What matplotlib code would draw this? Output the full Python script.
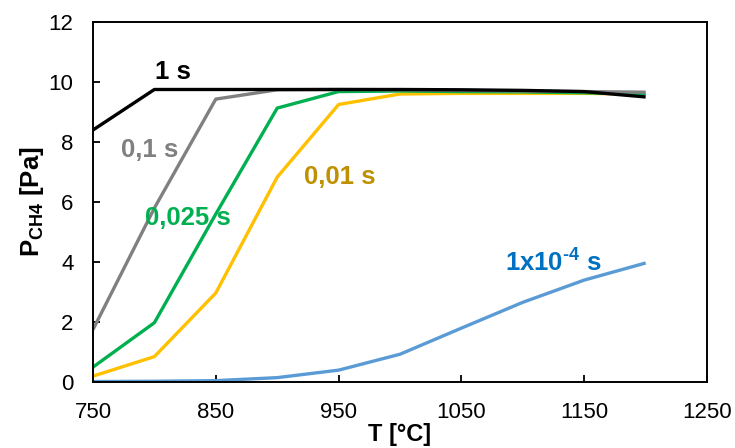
import numpy as np
import matplotlib
matplotlib.use('Agg')
import matplotlib.pyplot as plt

plt.rcParams['font.family'] = ['Liberation Sans', 'DejaVu Sans']
plt.rcParams['mathtext.fontset'] = 'custom'
plt.rcParams['mathtext.rm'] = 'Liberation Sans:bold'
plt.rcParams['mathtext.bf'] = 'Liberation Sans:bold'
plt.rcParams['mathtext.it'] = 'Liberation Sans:italic'

# data
T = [750, 800, 850, 900, 950, 1000, 1050, 1100, 1150, 1200]
p_1s = [8.4, 9.75, 9.75, 9.75, 9.75, 9.75, 9.74, 9.72, 9.68, 9.5]
p_01s = [1.75, 5.8, 9.43, 9.74, 9.75, 9.74, 9.72, 9.7, 9.68, 9.66]
p_0025s = [0.5, 1.98, 5.6, 9.13, 9.68, 9.7, 9.68, 9.67, 9.64, 9.6]
p_001s = [0.2, 0.85, 2.97, 6.83, 9.25, 9.6, 9.62, 9.62, 9.62, 9.6]
p_1e4s = [0.02, 0.03, 0.05, 0.15, 0.4, 0.93, 1.8, 2.66, 3.4, 3.97]

series = [
    (p_1e4s, '#5B9BD5'),
    (p_001s, '#FFC000'),
    (p_0025s, '#00B050'),
    (p_01s, '#808080'),
    (p_1s, '#000000'),
]

fig = plt.figure(figsize=(7.35, 4.48), dpi=100)
ax = fig.add_axes([0.1265, 0.147, 0.8355, 0.804])

for vals, col in series:
    ax.plot(T, vals, color=col, lw=2.4, solid_capstyle='butt')

ax.set_xlim(750, 1250)
ax.set_ylim(0, 12)
ax.set_xticks([750, 850, 950, 1050, 1150, 1250])
ax.set_yticks(np.arange(0, 13, 2))
ax.tick_params(direction='in', length=5, width=1.3, labelsize=16, pad=14)
for s in ax.spines.values():
    s.set_linewidth(1.4)

ax.set_xlabel('T [°C]', fontsize=17, fontweight='bold', labelpad=0)
ax.set_ylabel(r'$\mathbf{P_{CH4}}$ [Pa]', fontsize=18.5, fontweight='bold', labelpad=2)

lbl = dict(fontsize=18.5, fontweight='bold', ha='center', va='center')
ax.text(815, 10.33, '1 s', color='#000000', **lbl)
ax.text(796, 7.73, '0,1 s', color='#808080', **lbl)
ax.text(827, 5.47, '0,025 s', color='#00B050', **lbl)
ax.text(951, 6.83, '0,01 s', color='#BF9000', **lbl)
ax.text(1125, 3.97, r'1x10$^{\text{-4}}$ s', color='#0070C0', **lbl)

fig.savefig('out.png', dpi=100)
